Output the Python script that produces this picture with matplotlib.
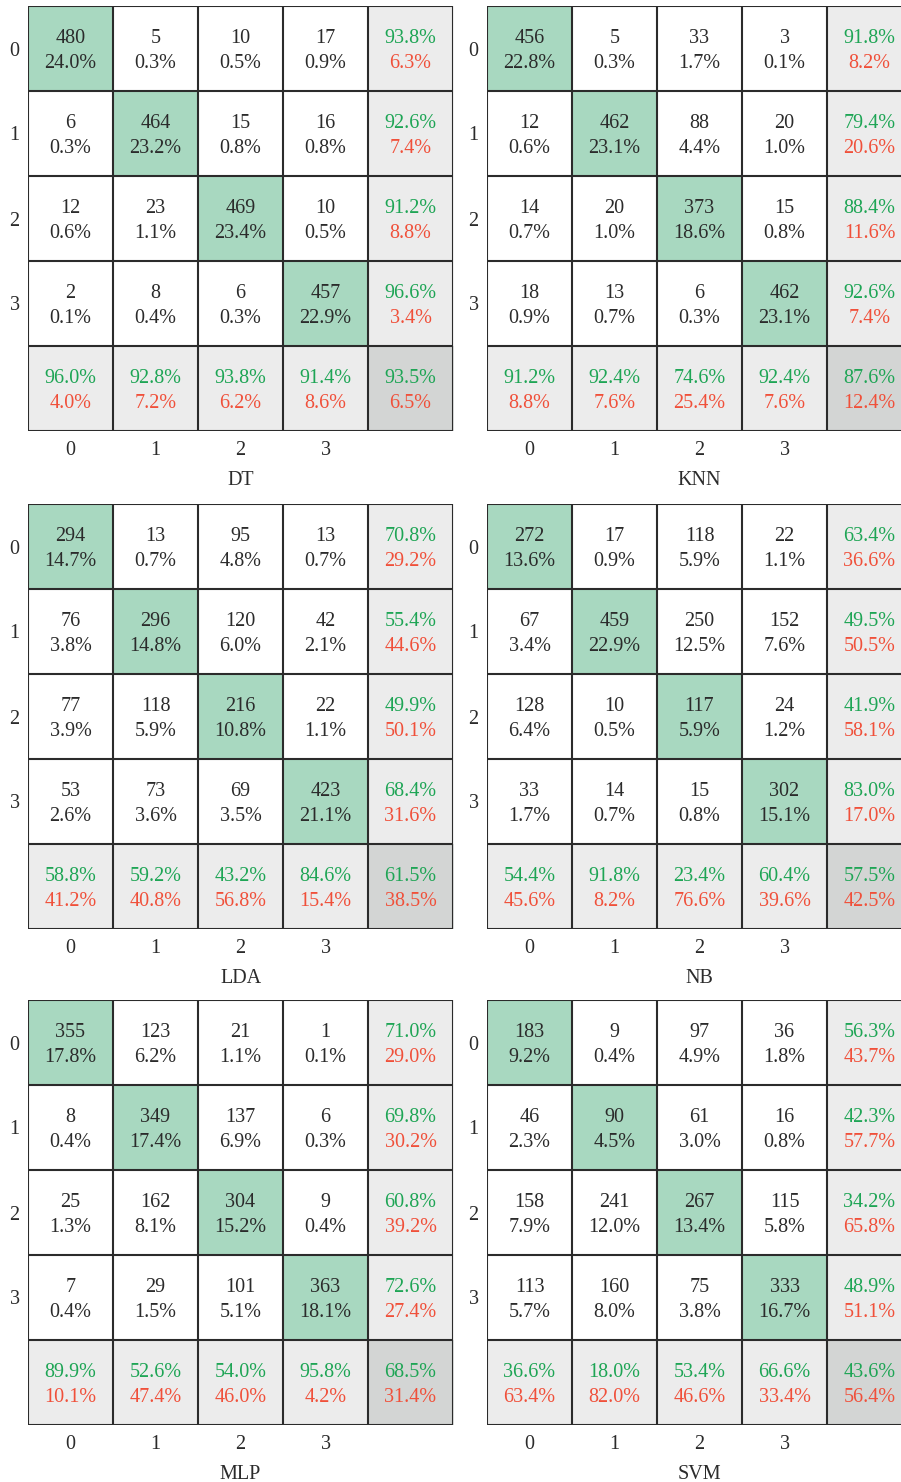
import matplotlib
matplotlib.use("Agg")
import matplotlib.pyplot as plt
import numpy as np
from matplotlib.colors import ListedColormap

plt.rcParams['font.family'] = ['Liberation Serif', 'DejaVu Serif']

classes = ["0", "1", "2", "3"]
models = ["DT", "KNN", "LDA", "NB", "MLP", "SVM"]

dt_counts = [[480, 5, 10, 17], [6, 464, 15, 16], [12, 23, 469, 10], [2, 8, 6, 457]]
dt_pct = [[24.0, 0.3, 0.5, 0.9], [0.3, 23.2, 0.8, 0.8], [0.6, 1.1, 23.4, 0.5], [0.1, 0.4, 0.3, 22.9]]
dt_row_good = [93.8, 92.6, 91.2, 96.6]
dt_row_bad = [6.3, 7.4, 8.8, 3.4]
dt_col_good = [96.0, 92.8, 93.8, 91.4]
dt_col_bad = [4.0, 7.2, 6.2, 8.6]
dt_overall = [93.5, 6.5]

knn_counts = [[456, 5, 33, 3], [12, 462, 88, 20], [14, 20, 373, 15], [18, 13, 6, 462]]
knn_pct = [[22.8, 0.3, 1.7, 0.1], [0.6, 23.1, 4.4, 1.0], [0.7, 1.0, 18.6, 0.8], [0.9, 0.7, 0.3, 23.1]]
knn_row_good = [91.8, 79.4, 88.4, 92.6]
knn_row_bad = [8.2, 20.6, 11.6, 7.4]
knn_col_good = [91.2, 92.4, 74.6, 92.4]
knn_col_bad = [8.8, 7.6, 25.4, 7.6]
knn_overall = [87.6, 12.4]

lda_counts = [[294, 13, 95, 13], [76, 296, 120, 42], [77, 118, 216, 22], [53, 73, 69, 423]]
lda_pct = [[14.7, 0.7, 4.8, 0.7], [3.8, 14.8, 6.0, 2.1], [3.9, 5.9, 10.8, 1.1], [2.6, 3.6, 3.5, 21.1]]
lda_row_good = [70.8, 55.4, 49.9, 68.4]
lda_row_bad = [29.2, 44.6, 50.1, 31.6]
lda_col_good = [58.8, 59.2, 43.2, 84.6]
lda_col_bad = [41.2, 40.8, 56.8, 15.4]
lda_overall = [61.5, 38.5]

nb_counts = [[272, 17, 118, 22], [67, 459, 250, 152], [128, 10, 117, 24], [33, 14, 15, 302]]
nb_pct = [[13.6, 0.9, 5.9, 1.1], [3.4, 22.9, 12.5, 7.6], [6.4, 0.5, 5.9, 1.2], [1.7, 0.7, 0.8, 15.1]]
nb_row_good = [63.4, 49.5, 41.9, 83.0]
nb_row_bad = [36.6, 50.5, 58.1, 17.0]
nb_col_good = [54.4, 91.8, 23.4, 60.4]
nb_col_bad = [45.6, 8.2, 76.6, 39.6]
nb_overall = [57.5, 42.5]

mlp_counts = [[355, 123, 21, 1], [8, 349, 137, 6], [25, 162, 304, 9], [7, 29, 101, 363]]
mlp_pct = [[17.8, 6.2, 1.1, 0.1], [0.4, 17.4, 6.9, 0.3], [1.3, 8.1, 15.2, 0.4], [0.4, 1.5, 5.1, 18.1]]
mlp_row_good = [71.0, 69.8, 60.8, 72.6]
mlp_row_bad = [29.0, 30.2, 39.2, 27.4]
mlp_col_good = [89.9, 52.6, 54.0, 95.8]
mlp_col_bad = [10.1, 47.4, 46.0, 4.2]
mlp_overall = [68.5, 31.4]

svm_counts = [[183, 9, 97, 36], [46, 90, 61, 16], [158, 241, 267, 115], [113, 160, 75, 333]]
svm_pct = [[9.2, 0.4, 4.9, 1.8], [2.3, 4.5, 3.0, 0.8], [7.9, 12.0, 13.4, 5.8], [5.7, 8.0, 3.8, 16.7]]
svm_row_good = [56.3, 42.3, 34.2, 48.9]
svm_row_bad = [43.7, 57.7, 65.8, 51.1]
svm_col_good = [36.6, 18.0, 53.4, 66.6]
svm_col_bad = [63.4, 82.0, 46.6, 33.4]
svm_overall = [43.6, 56.4]

data = {
    "DT": (dt_counts, dt_pct, dt_row_good, dt_row_bad, dt_col_good, dt_col_bad, dt_overall),
    "KNN": (knn_counts, knn_pct, knn_row_good, knn_row_bad, knn_col_good, knn_col_bad, knn_overall),
    "LDA": (lda_counts, lda_pct, lda_row_good, lda_row_bad, lda_col_good, lda_col_bad, lda_overall),
    "NB": (nb_counts, nb_pct, nb_row_good, nb_row_bad, nb_col_good, nb_col_bad, nb_overall),
    "MLP": (mlp_counts, mlp_pct, mlp_row_good, mlp_row_bad, mlp_col_good, mlp_col_bad, mlp_overall),
    "SVM": (svm_counts, svm_pct, svm_row_good, svm_row_bad, svm_col_good, svm_col_bad, svm_overall),
}

W, H = 901, 1482
fig = plt.figure(figsize=(W / 100, H / 100), dpi=100)

GREEN_CELL = "#a8d8c0"
GRAY_CELL = "#ececec"
CORNER_CELL = "#d3d5d4"
GREEN_TXT = "#1ea555"
RED_TXT = "#f0503a"
DARK = "#2b2b2b"
FS = 14.5

cmap = ListedColormap(["white", GREEN_CELL, GRAY_CELL, CORNER_CELL])

panel_left = [28, 487]
panel_top = [6, 504, 1000]
size = 425
off_top = -0.12
off_bot = 0.175

for k, name in enumerate(models):
    counts, pct, rg, rb, cg, cb, ov = data[name]
    n = len(counts)
    col = k % 2
    row = k // 2
    x0 = panel_left[col]
    y0 = panel_top[row]
    ax = fig.add_axes([x0 / W, 1 - (y0 + size) / H, size / W, size / H])
    cat = np.zeros((n + 1, n + 1))
    cat[np.arange(n), np.arange(n)] = 1
    cat[n, :] = 2
    cat[:, n] = 2
    cat[n, n] = 3
    ax.imshow(cat, cmap=cmap, vmin=0, vmax=3, aspect="auto",
              extent=(-0.5, n + 0.5, n + 0.5, -0.5), interpolation="nearest")
    for i in range(n):
        for j in range(n):
            ax.text(j, i + off_top, f"{counts[i][j]}", ha="center", va="center", fontsize=FS, color=DARK)
            ax.text(j, i + off_bot, f"{pct[i][j]:.1f}%", ha="center", va="center", fontsize=FS, color=DARK)
        ax.text(n, i + off_top, f"{rg[i]:.1f}%", ha="center", va="center", fontsize=FS, color=GREEN_TXT)
        ax.text(n, i + off_bot, f"{rb[i]:.1f}%", ha="center", va="center", fontsize=FS, color=RED_TXT)
    for j in range(n):
        ax.text(j, n + off_top, f"{cg[j]:.1f}%", ha="center", va="center", fontsize=FS, color=GREEN_TXT)
        ax.text(j, n + off_bot, f"{cb[j]:.1f}%", ha="center", va="center", fontsize=FS, color=RED_TXT)
    ax.text(n, n + off_top, f"{ov[0]:.1f}%", ha="center", va="center", fontsize=FS, color=GREEN_TXT)
    ax.text(n, n + off_bot, f"{ov[1]:.1f}%", ha="center", va="center", fontsize=FS, color=RED_TXT)
    for b in np.arange(-0.5, n + 1, 1.0):
        ax.axhline(b, color=DARK, lw=1.5)
        ax.axvline(b, color=DARK, lw=1.5)
    ax.set_xlim(-0.5, n + 0.5)
    ax.set_ylim(n + 0.5, -0.5)
    ax.set_xticks(range(n))
    ax.set_xticklabels(classes, fontsize=FS, color=DARK)
    ax.set_yticks(range(n))
    ax.set_yticklabels(classes, fontsize=FS, color=DARK)
    ax.tick_params(axis="x", length=0, pad=7)
    ax.tick_params(axis="y", length=0, pad=6)
    ax.set_xlabel(name, fontsize=FS, color=DARK, labelpad=8)
    for s in ax.spines.values():
        s.set_visible(False)

fig.savefig("out.png", dpi=100)
